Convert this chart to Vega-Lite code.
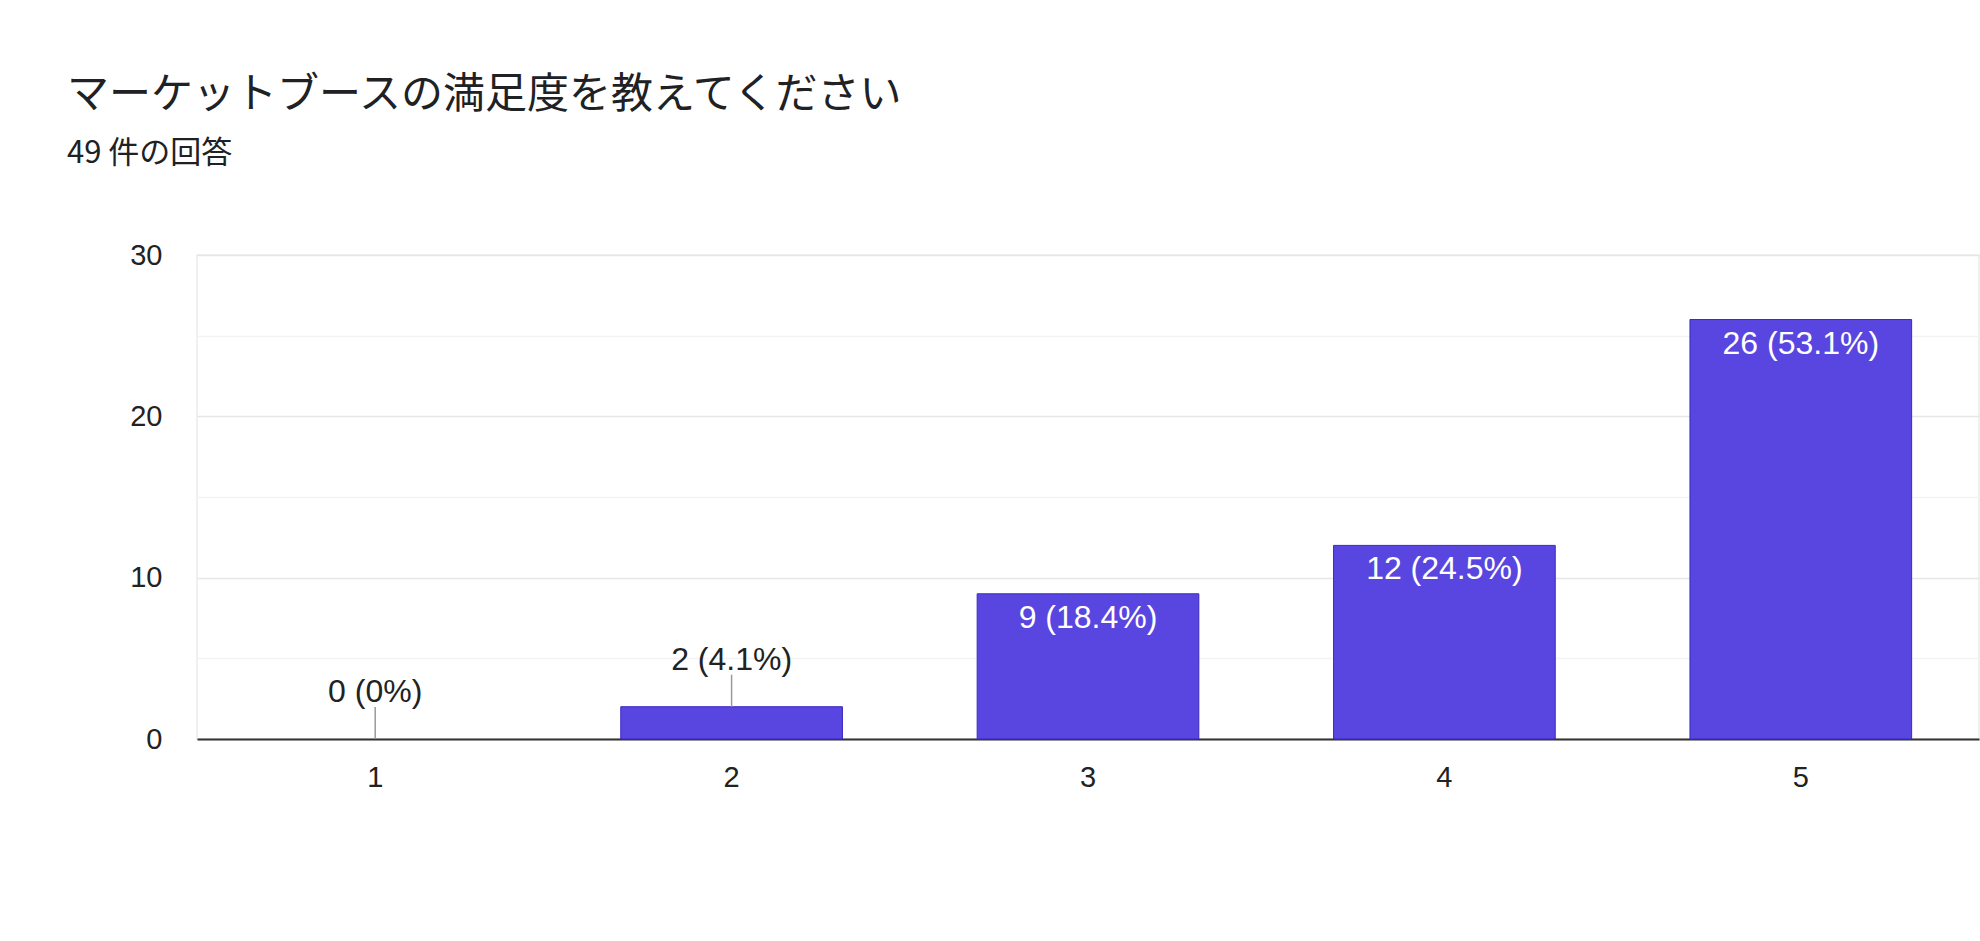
{
  "$schema": "https://vega.github.io/schema/vega-lite/v6.json",
  "autosize": {"type": "none"},
  "padding": {"left": 197, "top": 255, "right": 1, "bottom": 202},
  "width": 1782,
  "height": 484,
  "background": "white",
  "title": {
    "text": "マーケットブースの満足度を教えてください",
    "subtitle": "49 件の回答",
    "anchor": "start",
    "frame": "group",
    "dx": -130,
    "offset": 71,
    "font": "Noto Sans CJK JP",
    "fontSize": 42,
    "fontWeight": "normal",
    "color": "#202124",
    "subtitleFont": "Noto Sans CJK JP",
    "subtitleFontSize": 31,
    "subtitleColor": "#202124",
    "subtitlePadding": 22
  },
  "config": {
    "view": {"stroke": "#ebebeb", "strokeWidth": 1.5},
    "axis": {"labelFont": "Liberation Sans", "labelColor": "#222222"}
  },
  "data": {
    "values": [
      {"rating": "1", "count": 0, "label": "0 (0%)"},
      {"rating": "2", "count": 2, "label": "2 (4.1%)"},
      {"rating": "3", "count": 9, "label": "9 (18.4%)"},
      {"rating": "4", "count": 12, "label": "12 (24.5%)"},
      {"rating": "5", "count": 26, "label": "26 (53.1%)"}
    ]
  },
  "encoding": {
    "x": {
      "field": "rating",
      "type": "ordinal",
      "scale": {"paddingInner": 0.378, "paddingOuter": 0.189},
      "axis": {
        "title": null,
        "labelAngle": 0,
        "labelFontSize": 29,
        "labelPadding": 24,
        "ticks": false,
        "tickSize": 0,
        "domainColor": "#333333",
        "domainWidth": 1.8,
        "grid": false
      }
    },
    "y": {
      "field": "count",
      "type": "quantitative",
      "scale": {"domain": [0, 30], "nice": false},
      "axis": {
        "title": null,
        "values": [0, 5, 10, 15, 20, 25, 30],
        "labelExpr": "datum.value % 10 == 0 ? datum.label : ''",
        "labelFontSize": 29,
        "labelPadding": 35,
        "ticks": false,
        "tickSize": 0,
        "domain": false,
        "gridColor": {"condition": {"test": "datum.value % 10 == 0", "value": "#e6e6e6"}, "value": "#f3f3f3"},
        "gridWidth": 1.5
      }
    }
  },
  "layer": [
    {
      "transform": [{"filter": "datum.count > 0"}],
      "mark": {"type": "bar", "fill": "#5946E1", "stroke": "#3a28c4", "strokeWidth": 1}
    },
    {
      "transform": [{"filter": "datum.count < 5"}],
      "mark": {"type": "rule", "color": "#9a9a9a", "strokeWidth": 1.5, "yOffset": -32, "y2Offset": 0},
      "encoding": {"y2": {"field": "count"}}
    },
    {
      "transform": [{"filter": "datum.count < 5"}],
      "mark": {"type": "text", "baseline": "alphabetic", "dy": -37, "font": "Liberation Sans", "fontSize": 32, "color": "#222222"},
      "encoding": {"text": {"field": "label"}}
    },
    {
      "transform": [{"filter": "datum.count >= 5"}],
      "mark": {"type": "text", "baseline": "alphabetic", "dy": 34, "font": "Liberation Sans", "fontSize": 32, "color": "#ffffff"},
      "encoding": {"text": {"field": "label"}}
    }
  ]
}
